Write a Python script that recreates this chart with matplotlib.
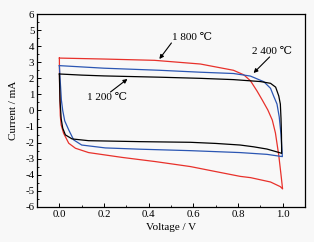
import numpy as np
import matplotlib
matplotlib.use("Agg")
import matplotlib.pyplot as plt
from matplotlib.ticker import MultipleLocator

plt.rcParams['font.family'] = ['Liberation Serif', 'DejaVu Serif']
plt.rcParams['axes.unicode_minus'] = False

# CV loops: top branch 0 -> 1 V, then bottom branch 1 -> 0 V
x_1200 = [0.0, 0.1, 0.2, 0.45, 0.63, 0.78, 0.9, 0.946, 0.969, 0.983, 0.99, 0.993, 0.995, 0.996,
          0.99, 0.983, 0.93, 0.87, 0.81, 0.7, 0.587, 0.363, 0.131, 0.057, 0.027, 0.015, 0.008, 0.003, 0.0]
y_1200 = [2.27, 2.2, 2.15, 2.07, 2.0, 1.92, 1.8, 1.69, 1.45, 0.9, 0.4, -0.5, -1.5, -2.67,
          -2.64, -2.61, -2.4, -2.26, -2.15, -2.05, -1.98, -1.94, -1.88, -1.77, -1.52, -1.1, -0.5, 0.6, 2.27]

x_1800 = [0.0, 0.2, 0.426, 0.632, 0.78, 0.826, 0.856, 0.886, 0.909, 0.934, 0.954, 0.968, 0.983, 0.993, 1.0,
          0.99, 0.946, 0.857, 0.81, 0.7, 0.587, 0.43, 0.281, 0.131, 0.072, 0.042, 0.019, 0.008, 0.004, 0.001, 0.0]
y_1800 = [3.26, 3.2, 3.12, 2.89, 2.5, 2.22, 1.85, 1.2, 0.65, 0.03, -0.6, -1.4, -2.8, -4.0, -4.88,
          -4.74, -4.45, -4.18, -4.1, -3.8, -3.49, -3.18, -2.92, -2.62, -2.35, -2.04, -1.42, -0.9, -0.3, 1.5, 3.26]

x_2400 = [0.0, 0.2, 0.45, 0.632, 0.78, 0.856, 0.916, 0.946, 0.961, 0.975, 0.985, 0.993, 0.999,
          0.93, 0.81, 0.587, 0.363, 0.206, 0.1, 0.064, 0.042, 0.024, 0.015, 0.009, 0.004, 0.0]
y_2400 = [2.79, 2.63, 2.5, 2.38, 2.3, 2.14, 1.79, 1.38, 0.86, 0.4, -0.4, -1.5, -2.87,
          -2.73, -2.62, -2.5, -2.41, -2.33, -2.15, -1.83, -1.21, -0.65, 0.0, 0.65, 1.8, 2.79]

# labels: text centre, arrow tail, arrow head
labels = ['1 800 ℃', '2 400 ℃', '1 200 ℃']
text_xy = [(0.595, 4.57), (0.955, 3.64), (0.215, 0.78)]
tail_xy = [(0.502, 4.2), (0.942, 3.33), (0.229, 1.15)]
head_xy = [(0.448, 3.2), (0.87, 2.33), (0.305, 1.96)]

bg = '#f8f8f8'
fig = plt.figure(figsize=(3.14, 2.42), dpi=100, facecolor=bg)
ax = fig.add_axes([0.118, 0.145, 0.853, 0.797], facecolor=bg)

ax.plot(x_1800, y_1800, color='#e8312b', lw=0.9)
ax.plot(x_2400, y_2400, color='#2b56b3', lw=0.9)
ax.plot(x_1200, y_1200, color='black', lw=0.9)

ax.set_xlim(-0.1, 1.1)
ax.set_ylim(-6, 6)
ax.xaxis.set_major_locator(MultipleLocator(0.2))
ax.xaxis.set_minor_locator(MultipleLocator(0.1))
ax.yaxis.set_major_locator(MultipleLocator(1))
ax.yaxis.set_minor_locator(MultipleLocator(0.5))
ax.set_xticks([0.0, 0.2, 0.4, 0.6, 0.8, 1.0])
ax.set_xticklabels(['0.0', '0.2', '0.4', '0.6', '0.8', '1.0'])
ax.tick_params(which='both', direction='in', top=False, right=False, labelsize=7.8, pad=2)
ax.tick_params(which='major', length=3, width=0.7)
ax.tick_params(which='minor', length=1.6, width=0.6)
for s in ax.spines.values():
    s.set_linewidth(0.9)

ax.set_xlabel('Voltage / V', fontsize=8, labelpad=3)
ax.set_ylabel('Current / mA', fontsize=8, labelpad=5)

arr = dict(arrowstyle='-|>', color='black', lw=0.8, mutation_scale=6, shrinkA=0, shrinkB=0)
for lab, t, a, h in zip(labels, text_xy, tail_xy, head_xy):
    ax.text(t[0], t[1], lab, fontsize=8, ha='center', va='center')
    ax.annotate('', xy=h, xytext=a, arrowprops=arr)

fig.savefig('out.png', dpi=100, facecolor=bg)
